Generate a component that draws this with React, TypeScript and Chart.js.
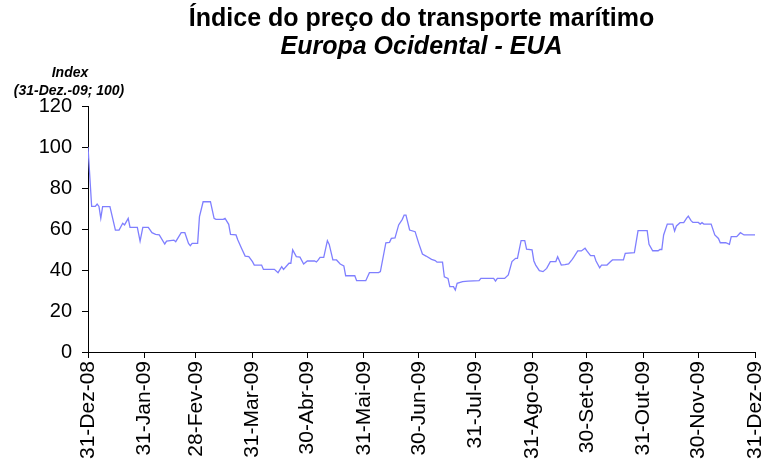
import React, { useEffect, useRef } from "react";
import { Chart, registerables } from "chart.js";

Chart.register(...registerables);

const titleLine1 = "Índice do preço do transporte marítimo";
const titleLine2 = "Europa Ocidental - EUA";
const yTitle1 = "Index";
const yTitle2 = "(31-Dez.-09; 100)";

const tickDays = [0, 31, 59, 90, 120, 151, 181, 212, 243, 273, 304, 334, 365];
const tickLabels = [
  "31-Dez-08", "31-Jan-09", "28-Fev-09", "31-Mar-09", "30-Abr-09", "31-Mai-09",
  "30-Jun-09", "31-Jul-09", "31-Ago-09", "30-Set-09", "31-Out-09", "30-Nov-09", "31-Dez-09",
];
const yTicks = [0, 20, 40, 60, 80, 100, 120];

// days since 31-Dez-08
const days = [
  0, 2, 4, 5, 6, 7, 8, 12, 15, 17, 19, 20, 22, 23, 27, 28.5, 30, 33, 35, 37, 39, 42, 43, 47, 48, 51, 53, 55, 56, 57, 60,
  61, 63, 67, 69, 70, 74, 75, 77, 78, 81, 82, 84, 86, 88, 90, 91, 95, 96, 102, 104, 106, 107, 110, 111, 112, 114, 116, 118, 120,
  124, 125, 126, 127, 129, 131, 132, 134, 136, 138, 140, 141, 146, 147, 152, 154, 159, 160, 163, 165, 166, 168, 170, 172, 173, 174,
  176, 179, 181, 183, 185, 188, 190, 191, 194, 195, 197, 198, 200, 201, 202, 205, 208, 214, 215, 222, 223, 224, 228, 230, 232,
  234, 235, 237, 239, 240, 243, 244, 245, 247, 249, 251, 253, 256, 257, 259, 261, 263, 265, 266, 268, 270, 272, 273, 275, 277,
  278, 280, 281, 284, 286, 287, 293, 294, 299, 301, 306, 307, 309, 312, 313, 314, 315, 317, 320, 321, 322, 324, 326, 327.5, 328.5,
  330, 331, 334, 335, 336, 337, 341, 343, 345, 346, 349, 351, 352, 355, 357, 359, 365,
];
const values = [
  100, 71, 71, 72.2, 71, 65.2, 70.9, 70.9, 59.5, 59.5, 62.8, 62, 65.2, 60.8, 60.8, 54.1, 60.8, 60.8, 58.2, 57.4, 57.1, 52.7, 54.1, 54.6, 53.8, 58.2, 58.2, 53, 51.9, 53, 53,
  66, 73.3, 73.3, 65.2, 64.7, 64.7, 65.2, 62.3, 57.4, 57.1, 54.6, 50.6, 46.8, 46.5, 44.1, 42.4, 42.4, 40.3, 40.3, 38.7, 41.6, 40.3, 43.3, 43.3, 49.8, 46.5, 46.3, 42.9, 44.4,
  44.4, 43.9, 44.9, 46.2, 46.2, 54.3, 52.5, 44.9, 44.9, 42.9, 42, 37.2, 37.2, 34.8, 34.8, 38.7, 38.7, 39.2, 53.3, 53.5, 55.4, 55.6, 62, 64.7, 66.8, 66.8,
  59.5, 58.7, 53, 47.8, 46.8, 45.2, 44.6, 43.8, 43.8, 36.7, 35.9, 31.9, 31.9, 30.2, 33.5, 34.3, 34.6, 34.8, 35.9, 35.9, 34.6, 35.9, 35.9, 37.6, 44.1,
  45.7, 45.7, 54.3, 54.3, 50.2, 49.8, 44.4, 42.4, 39.7, 39.2, 40.8, 44.1, 44.1, 46.5, 42.4, 42.6, 43, 45.2, 46.5, 49.3, 49.3, 50.6, 49.3, 47, 47,
  44.4, 41.1, 42.4, 42.4, 44.1, 44.9, 44.9, 48.1, 48.5, 59.2, 59.2, 52.5, 49.4, 49.4, 50, 50, 57.1, 62.4, 62.4, 59, 61.5, 63.1, 63.1, 65.2, 66.3,
  64.1, 63.2, 63.2, 62.4, 63.1, 62.4, 62.4, 57.1, 55.4, 53.3, 53.3, 52.5, 56.3, 56.3, 58.2, 57.1, 57.1,
];

const FONT = "'Liberation Sans', Arial, sans-serif";

const titlePlugin = {
  id: "customTitles",
  afterDraw(chart: any) {
    const ctx = chart.ctx;
    const area = chart.chartArea;
    const cx = (area.left + area.right) / 2;
    ctx.save();
    ctx.fillStyle = "#000";
    ctx.textAlign = "center";
    ctx.textBaseline = "middle";
    ctx.font = `bold 25px ${FONT}`;
    ctx.fillText(titleLine1, cx, 19);
    ctx.font = `italic bold 25px ${FONT}`;
    ctx.fillText(titleLine2, cx, 47);
    ctx.font = `italic bold 14px ${FONT}`;
    ctx.fillText(yTitle1, 70, 73);
    ctx.fillText(yTitle2, 69, 91);
    ctx.restore();
  },
};

export default function App() {
  const ref = useRef<HTMLCanvasElement>(null);
  useEffect(() => {
    document.body.style.margin = "0";
    const canvas = ref.current!;
    const chart = new Chart(canvas, {
      type: "line",
      data: {
        datasets: [
          {
            data: days.map((d, i) => ({ x: d, y: values[i] })),
            borderColor: "#7f7fff",
            borderWidth: 1.3,
            pointRadius: 0,
            tension: 0,
            fill: false,
          },
        ],
      },
      options: {
        animation: false,
        responsive: false,
        devicePixelRatio: 1,
        layout: { padding: { top: 106, right: 0, left: 0, bottom: 0 } },
        plugins: { legend: { display: false }, tooltip: { enabled: false }, title: { display: false } },
        scales: {
          x: {
            type: "linear",
            min: 0,
            max: 365,
            afterBuildTicks: (scale: any) => {
              scale.ticks = tickDays.map((v) => ({ value: v }));
            },
            afterFit: (scale: any) => {
              scale.height = 115;
              scale.paddingLeft = 0;
              scale.paddingRight = 13;
            },
            grid: { display: true, drawOnChartArea: false, drawTicks: true, tickLength: 6, color: "#000" },
            border: { display: true, color: "#000", width: 1 },
            ticks: {
              autoSkip: false,
              minRotation: 90,
              maxRotation: 90,
              padding: 3,
              color: "#000",
              font: { family: FONT, size: 21 },
              callback: (v: any) => {
                const i = tickDays.indexOf(Number(v));
                return i >= 0 ? tickLabels[i] : "";
              },
            },
          },
          y: {
            min: 0,
            max: 120,
            afterBuildTicks: (scale: any) => {
              scale.ticks = yTicks.map((v) => ({ value: v }));
            },
            afterFit: (scale: any) => {
              scale.width = 88;
            },
            grid: { display: true, drawOnChartArea: false, drawTicks: true, tickLength: 6, color: "#000" },
            border: { display: true, color: "#000", width: 1 },
            ticks: {
              padding: 10,
              color: "#000",
              font: { family: FONT, size: 20 },
            },
          },
        },
      },
      plugins: [titlePlugin],
    });
    return () => chart.destroy();
  }, []);
  return <canvas ref={ref} width={768} height={467} style={{ display: "block" }} />;
}
